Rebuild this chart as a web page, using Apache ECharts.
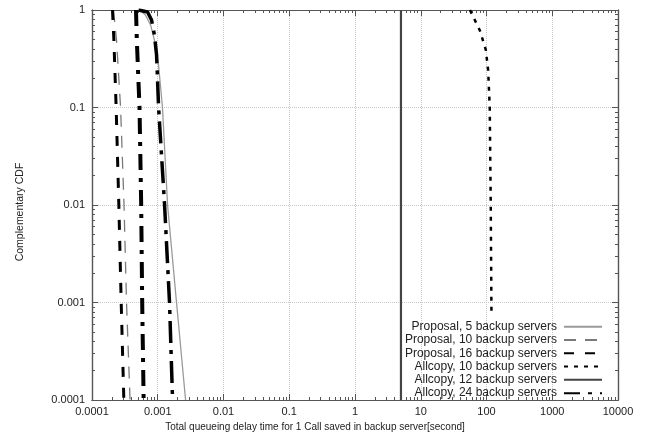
<!DOCTYPE html>
<html>
<head>
<meta charset="utf-8">
<script src="https://cdn.jsdelivr.net/npm/echarts@6/dist/echarts.min.js"></script>
<style>
  html, body { margin: 0; padding: 0; background: #fff; }
  #chart { width: 646px; height: 440px; }
</style>
</head>
<body>
<div id="chart"></div>
<script>
// --- data (delay in seconds, complementary CDF) ---
const legendNames = [
  'Proposal, 5 backup servers',
  'Proposal, 10 backup servers',
  'Proposal, 16 backup servers',
  'Allcopy, 10 backup servers',
  'Allcopy, 12 backup servers',
  'Allcopy, 24 backup servers'
];

const prop5Delay = [0.00053, 0.00065, 0.00078, 0.00089, 0.00103, 0.00118, 0.00141, 0.00193, 0.00265];
const prop5Ccdf  = [1, 0.89, 0.7, 0.49, 0.27, 0.1, 0.01, 0.001, 0.0001];

const prop10Delay = [0.000212, 0.000236, 0.000272, 0.000307, 0.000335, 0.000379];
const prop10Ccdf  = [1, 0.49, 0.1, 0.01, 0.001, 0.0001];

const prop16Delay = [0.000205, 0.000215, 0.000233, 0.000256, 0.000278, 0.000305];
const prop16Ccdf  = [1, 0.5, 0.1, 0.01, 0.001, 0.0001];

const all10Delay = [56, 79, 97.6, 106, 112, 116, 119];
const all10Ccdf  = [1, 0.62, 0.39, 0.24, 0.1, 0.01, 0.00078];

const all12Delay = [5, 5];
const all12Ccdf  = [1, 0.0001];

// two dash-dot curves share the same style / legend entry
const all24aDelay = [0.000467, 0.00048, 0.000528, 0.00056, 0.00058, 0.00061];
const all24aCcdf  = [1, 0.5, 0.1, 0.01, 0.001, 0.0001];
const all24bDelay = [0.00051, 0.0007, 0.000805, 0.00089, 0.00096, 0.00103, 0.00127, 0.00151, 0.00168];
const all24bCcdf  = [1, 0.954, 0.79, 0.554, 0.345, 0.1, 0.01, 0.001, 0.0001];

const xDecades = [0.0001, 0.001, 0.01, 0.1, 1, 10, 100, 1000, 10000];
const yDecades = [0.0001, 0.001, 0.01, 0.1, 1];

const FONT = "'Liberation Sans', Arial, sans-serif";

const zip = (xs, ys) => xs.map((x, i) => [x, ys[i]]);

// log-spaced minor tick values (2..9 inside each decade)
const minorTicks = (decades) => {
  const out = [];
  for (let i = 0; i < decades.length - 1; i++) {
    for (let k = 2; k <= 9; k++) out.push(+(decades[i] * k).toPrecision(3));
  }
  return out;
};

const fmt = (v) => String(+v.toPrecision(3));

const chart = echarts.init(document.getElementById('chart'));

const axisLine = { show: true, lineStyle: { color: '#555', width: 1.2 } };

// one of the 4 axes used per direction (main, mirror, minor ticks)
const makeAxis = (position, decades, opts) => ({
  type: 'log',
  logBase: 10,
  position: position,
  min: decades[0],
  max: decades[decades.length - 1],
  splitNumber: decades.length - 1,
  axisLine: axisLine,
  axisTick: opts.minor
    ? { show: true, inside: true, length: 3, lineStyle: { color: '#555' }, customValues: minorTicks(decades) }
    : { show: true, inside: true, length: 6, lineStyle: { color: '#555' } },
  axisLabel: { show: false },
  splitLine: { show: false },
  ...opts.extra
});

const gridLine = { show: true, lineStyle: { color: '#c8c8c8', type: 'dotted', width: 1 } };
const tickLabel = { show: true, fontFamily: FONT, fontSize: 11, color: '#222', formatter: fmt };

const option = {
  animation: false,
  backgroundColor: '#fff',
  textStyle: { fontFamily: FONT },
  grid: { left: 92, right: 28, top: 10, bottom: 40, outerBoundsMode: 'none' },
  legend: {
    data: legendNames,
    orient: 'vertical',
    right: 43,
    top: 320,
    align: 'right',
    padding: 0,
    itemWidth: 38,
    itemHeight: 10,
    itemGap: 0,
    itemStyle: { opacity: 0, borderWidth: 0 },
    textStyle: { fontFamily: FONT, fontSize: 12, lineHeight: 13.3, color: '#222', padding: [0, 2, 0, 0] }
  },
  xAxis: [
    makeAxis('bottom', xDecades, { extra: {
      name: 'Total queueing delay time for 1 Call saved in backup server[second]',
      nameLocation: 'middle',
      nameGap: 21,
      nameTextStyle: { fontFamily: FONT, fontSize: 10, color: '#222', padding: [0, 80, 0, 0] },
      axisLabel: { ...tickLabel, margin: 6 },
      splitLine: gridLine
    } }),
    makeAxis('top', xDecades, {}),
    makeAxis('bottom', xDecades, { minor: true }),
    makeAxis('top', xDecades, { minor: true })
  ],
  yAxis: [
    makeAxis('left', yDecades, { extra: {
      name: 'Complementary CDF',
      nameLocation: 'middle',
      nameGap: 66,
      nameTextStyle: { fontFamily: FONT, fontSize: 10.5, color: '#222', padding: [0, 14, 0, 0] },
      axisLabel: { ...tickLabel, margin: 7 },
      splitLine: gridLine
    } }),
    makeAxis('right', yDecades, {}),
    makeAxis('left', yDecades, { minor: true }),
    makeAxis('right', yDecades, { minor: true })
  ],
  series: [
    {
      name: legendNames[0], type: 'line', symbol: 'none',
      data: zip(prop5Delay, prop5Ccdf),
      lineStyle: { color: '#9a9a9a', width: 1.3, type: 'solid' },
      itemStyle: { color: '#9a9a9a' }
    },
    {
      name: legendNames[1], type: 'line', symbol: 'none',
      data: zip(prop10Delay, prop10Ccdf),
      lineStyle: { color: '#7a7a7a', width: 1.3, type: [12, 9] },
      itemStyle: { color: '#7a7a7a' }
    },
    {
      name: legendNames[2], type: 'line', symbol: 'none',
      data: zip(prop16Delay, prop16Ccdf),
      lineStyle: { color: '#000', width: 3, type: [10, 11] },
      itemStyle: { color: '#000' }
    },
    {
      name: legendNames[3], type: 'line', symbol: 'none',
      data: zip(all10Delay, all10Ccdf),
      lineStyle: { color: '#000', width: 2.5, type: [4, 6] },
      itemStyle: { color: '#000' }
    },
    {
      name: legendNames[4], type: 'line', symbol: 'none',
      data: zip(all12Delay, all12Ccdf),
      lineStyle: { color: '#444', width: 2.2, type: 'solid' },
      itemStyle: { color: '#444' }
    },
    {
      name: legendNames[5], type: 'line', symbol: 'none',
      data: zip(all24aDelay, all24aCcdf),
      lineStyle: { color: '#000', width: 4, type: [16, 8, 4, 8] },
      itemStyle: { color: '#000' }
    },
    {
      name: legendNames[5], type: 'line', symbol: 'none',
      data: zip(all24bDelay, all24bCcdf),
      lineStyle: { color: '#000', width: 3.5, type: [22, 7, 4, 7] },
      itemStyle: { color: '#000' }
    }
  ]
};

chart.setOption(option);
</script>
</body>
</html>
